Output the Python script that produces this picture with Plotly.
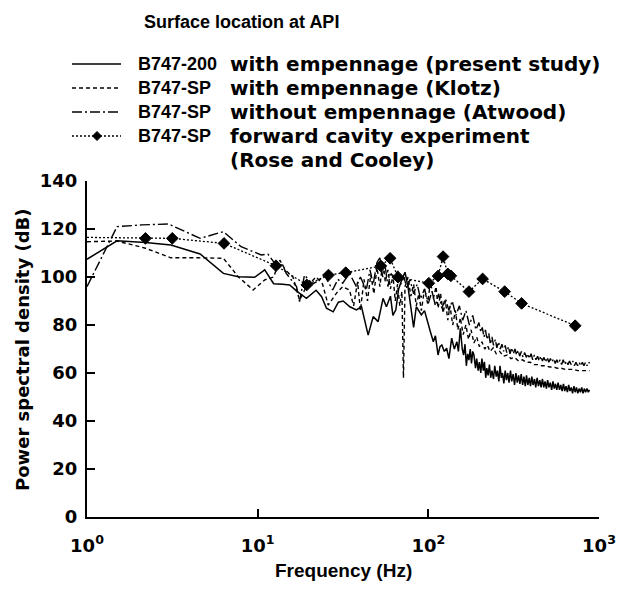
import plotly.graph_objects as go

# ---------------- data ----------------
freq_present = [1.0, 1.5, 2.2, 3.1, 4.6, 6.3, 7.7, 9.6, 11.0, 12.4, 14.0, 15.4, 17.0, 19.3, 22.0, 23.7,
                25.3, 27.7, 29.7, 31.7, 34.7, 37.9, 40.6, 42.5, 44.4, 47.5, 50.8, 54.3, 56.8, 60.0,
                62.0, 64.5, 67.0, 70.0, 73.0, 76.0, 79.0, 82.0, 85.0, 88.0, 91.0, 95.0, 99.6, 103,
                107, 110, 114, 117, 120, 124, 128, 132, 137, 142, 147,
                150, 154, 158, 161, 164, 167, 170, 173, 176, 179, 182, 185, 189, 192, 196, 199, 203,
                206, 210, 213, 217, 220, 224, 228, 232, 236, 241, 245, 250, 254, 259, 263, 268, 272,
                277, 282, 287, 292, 297, 303, 308, 314, 320, 326, 332, 338, 344, 350, 357, 363, 370,
                376, 383, 390, 397, 404, 411, 419, 426, 434, 442, 450, 458, 466, 475, 483, 492, 500,
                509, 518, 528, 537, 547, 556, 566, 576, 587, 597, 608, 619, 630, 641, 653, 664, 676,
                688, 700, 713, 725, 738, 751, 765, 778, 792, 806, 820, 835, 850, 865, 880]
psd_present = [107.4, 115.1, 114.4, 113.3, 109.6, 101.5, 100.1, 99.9, 103.0, 97.2, 97.0, 96.7, 94.0,
               91.1, 94.5, 91.8, 87.0, 85.5, 89.5, 90.0, 87.6, 86.3, 87.6, 82.0, 75.8, 83.5, 81.4,
               91.1, 87.6, 92.0, 84.0, 86.3, 95.0, 99.0, 102.0, 96.0, 88.0, 79.0, 87.6, 86.0, 84.2,
               86.0, 80.0, 77.0, 73.0, 75.5, 67.5, 71.0, 71.7, 69.0, 70.3, 66.0, 74.5, 70.0, 73.0,
               69.0, 78.6, 70.0, 67.5, 72.0, 63.0, 68.0, 65.4, 70.0, 64.0, 69.0, 67.5, 62.0, 66.0,
               61.0, 64.5, 60.0, 66.0, 61.0, 64.7, 58.0, 62.0, 59.0, 63.5, 58.0, 61.0, 57.5, 63.0,
               58.5, 61.0, 56.5, 63.0, 58.0, 60.0, 55.7, 61.0, 57.0, 60.0, 56.0, 61.0, 56.5, 59.5,
               55.0, 60.0, 56.0, 59.0, 55.5, 59.5, 55.0, 58.5, 54.5, 59.0, 55.0, 58.0, 54.5, 58.5,
               55.0, 57.5, 54.0, 58.0, 54.5, 57.0, 54.0, 57.5, 54.0, 56.5, 53.5, 57.0, 54.0, 56.0,
               53.0, 56.5, 53.5, 55.5, 53.0, 56.0, 53.0, 55.0, 52.5, 55.5, 52.5, 54.5, 52.0, 55.0,
               52.5, 54.0, 51.5, 54.5, 52.0, 54.0, 51.5, 53.5, 52.0, 54.0, 51.5, 53.5, 52.0, 53.5,
               52.0, 53.0]

freq_klotz = [1.0, 1.5, 2.2, 3.1, 4.5, 6.3, 7.7, 9.4, 11.0, 12.4, 13.5, 14.5, 16.1, 17.6, 19.3, 22.0,
              24.0, 25.9, 28.9, 31.5, 34.5, 36.5, 38.5, 40.0, 42.0, 44.0, 46.0, 48.0, 50.0, 52.0,
              54.0, 56.0, 58.0, 60.0, 62.0, 64.0, 66.0, 68.0, 70.0, 71.5, 73.0, 76.0, 79.0, 82.0,
              85.0, 88.0, 91.0, 95.0, 99.0, 103, 107, 111, 114, 118, 122, 126, 130, 134, 139, 144,
              149, 154, 160, 166, 172, 178, 185, 192, 199, 206, 214, 222, 230, 240, 250, 262, 275,
              290, 305, 320, 338, 356, 375, 395, 416, 438, 462, 487, 513, 540, 570, 600, 635, 670,
              710, 750, 800, 850, 880]
psd_klotz = [114.7, 115.0, 112.0, 108.0, 108.0, 107.8, 100.1, 94.6, 98.8, 100.0, 107.0, 103.0, 100.0,
             90.4, 96.0, 100.0, 97.0, 88.3, 93.2, 96.0, 94.6, 88.0, 98.0, 86.0, 99.0, 90.0, 101.0,
             93.0, 104.0, 96.0, 106.0, 98.0, 103.0, 95.0, 101.0, 90.0, 97.0, 88.0, 94.0, 58.0, 96.0,
             100.0, 92.0, 97.0, 88.0, 93.0, 86.0, 95.0, 89.0, 98.0, 91.0, 96.0, 87.0, 93.0, 85.0,
             90.0, 82.0, 88.0, 80.0, 86.0, 78.0, 83.0, 76.0, 80.0, 74.0, 78.0, 72.5, 75.0, 71.0,
             73.0, 70.0, 71.5, 69.0, 70.5, 68.0, 69.0, 67.0, 67.5, 66.0, 66.5, 65.0, 65.5, 64.5,
             64.5, 63.5, 63.5, 63.0, 63.0, 62.5, 62.5, 62.0, 62.0, 61.5, 61.5, 61.5, 61.0, 61.0,
             61.0, 61.0]

freq_atwood = [1.0, 1.5, 2.1, 3.0, 4.6, 6.3, 8.0, 10.5, 11.5, 12.5, 14.0, 14.7, 16.9, 17.6, 18.8, 21.0,
               23.0, 24.6, 27.5, 29.5, 31.5, 34.5, 37.9, 40.0, 43.3, 45.5, 47.5, 50.0, 52.0, 54.0,
               56.0, 58.0, 60.0, 63.0, 66.0, 69.0, 72.0, 75.0, 78.0, 82.0, 86.0, 90.0, 95.0, 100,
               105, 110, 115, 120, 126, 132, 138, 145, 152, 159, 166, 174, 182, 190,
               198, 203, 207, 212, 216, 221, 226, 231, 236, 241, 247, 252, 258, 264, 270, 276, 282,
               288, 295, 301, 308, 315, 322, 329, 336, 343, 351, 359, 367, 375, 383, 391, 400, 409,
               418, 427, 437, 446, 456, 466, 476, 486, 497, 508, 519, 530, 542, 554, 566, 578, 591,
               604, 617, 630, 644, 658, 672, 687, 702, 717, 733, 749, 765, 782, 799, 816, 834, 852,
               870, 880]
psd_atwood = [96.0, 121.0, 121.7, 122.1, 116.1, 118.9, 112.6, 109.2, 109.5, 106.0, 105.0, 101.5, 96.0,
              89.7, 100.8, 97.0, 98.8, 100.8, 94.6, 99.0, 97.4, 101.5, 96.0, 100.0, 94.6, 103.0,
              97.0, 106.0, 108.0, 100.0, 104.0, 96.0, 102.0, 99.0, 103.0, 97.0, 100.0, 95.0, 99.0,
              93.0, 97.0, 91.0, 95.0, 89.0, 94.0, 88.0, 93.0, 87.0, 91.0, 86.0, 90.0, 84.0, 88.0,
              82.0, 86.0, 80.0, 84.0, 78.0,
              81.0, 77.0, 79.0, 75.0, 78.0, 74.0, 76.5, 72.0, 75.0, 71.5, 74.0, 70.5, 73.0, 70.0,
              72.0, 69.0, 71.5, 68.5, 71.0, 68.0, 70.5, 68.0, 70.0, 67.5, 69.5, 67.0, 69.0, 66.5,
              68.5, 66.5, 68.0, 66.0, 68.0, 65.5, 67.5, 65.5, 67.0, 65.0, 67.0, 65.0, 66.5, 64.5,
              66.5, 64.5, 66.0, 64.5, 66.0, 64.0, 65.5, 64.0, 65.5, 63.5, 65.5, 63.5, 65.0, 63.5,
              65.0, 63.5, 65.0, 63.0, 64.5, 63.0, 64.5, 63.0, 64.5, 63.0, 64.5, 63.0, 64.5, 64.0]

freq_rose = [1.0, 2.2, 3.16, 6.35, 12.8, 19.4, 26.0, 32.8, 52.7, 59.7, 66.5, 100.7, 114, 122, 130,
             135.5, 173, 208, 280, 352, 725]
psd_rose = [116.5, 116.1, 116.1, 114.0, 104.7, 96.7, 100.8, 101.8, 104.6, 107.8, 99.9, 97.4, 100.4,
            108.5, 101.3, 100.5, 93.9, 99.2, 93.9, 89.0, 79.7]

x_tickvals = [1, 10, 100, 1000]
x_ticktext = ["10<sup>0</sup>", "10<sup>1</sup>", "10<sup>2</sup>", "10<sup>3</sup>"]
y_tickvals = [0, 20, 40, 60, 80, 100, 120, 140]

legend_codes = ["B747-200", "B747-SP", "B747-SP", "B747-SP"]
legend_desc = ["with empennage (present study)", "with empennage (Klotz)",
               "without empennage (Atwood)", "forward cavity experiment"]
legend_desc_extra = "(Rose and Cooley)"
legend_title = "Surface location at API"

# ---------------- figure ----------------
NARROW = "Liberation Sans, Arial, Helvetica, sans-serif"
WIDE = "DejaVu Sans, Verdana, sans-serif"
W, H = 634, 590
L, R, T, B = 87, 35, 181, 73
PW, PH = W - L - R, H - T - B


def px(xp):
    return (xp - L) / PW


def py(yp):
    return (H - B - yp) / PH


fig = go.Figure()
fig.add_trace(go.Scatter(x=freq_present, y=psd_present, mode="lines",
                         line=dict(color="black", width=1.5)))
fig.add_trace(go.Scatter(x=freq_klotz, y=psd_klotz, mode="lines",
                         line=dict(color="black", width=1.4, dash="4px,3px")))
fig.add_trace(go.Scatter(x=freq_atwood, y=psd_atwood, mode="lines",
                         line=dict(color="black", width=1.4, dash="10px,3px,2px,3px")))
rose_sizes = [0] + [9] * (len(freq_rose) - 1)
fig.add_trace(go.Scatter(x=freq_rose, y=psd_rose, mode="lines+markers",
                         line=dict(color="black", width=1.3, dash="2px,2px"),
                         marker=dict(symbol="diamond", size=rose_sizes, color="black",
                                     opacity=1, line=dict(color="black", width=1))))

tickfont = dict(family=WIDE, size=18, color="black", weight="bold")
fig.update_xaxes(type="log", range=[0, 3], tickvals=x_tickvals, ticktext=x_ticktext,
                 showline=True, linecolor="black", linewidth=2, ticks="inside", ticklen=8,
                 tickwidth=2, tickcolor="black", showgrid=False, zeroline=False,
                 tickfont=tickfont, ticklabelstandoff=11)
fig.update_yaxes(range=[0, 140], tickvals=y_tickvals, showline=True, linecolor="black",
                 linewidth=2, ticks="inside", ticklen=8, tickwidth=2, tickcolor="black",
                 showgrid=False, zeroline=False, tickfont=tickfont, ticklabelstandoff=4)

annotations = []
shapes = []
codefont = dict(family=NARROW, size=18, color="black", weight="bold")
descfont = dict(family=WIDE, size=20, color="black", weight="bold")
annotations.append(dict(text=legend_title, x=px(142), y=py(22), xref="paper", yref="paper",
                        xanchor="left", yanchor="middle", showarrow=False,
                        font=dict(family=NARROW, size=18, color="black", weight="bold")))
row_y = [64, 88, 112, 136]
dashes = ["solid", "4px,3px", "10px,3px,2px,3px", "2px,2px"]
for i, (code, desc) in enumerate(zip(legend_codes, legend_desc)):
    yy = row_y[i]
    annotations.append(dict(text=code, x=px(136), y=py(yy), xref="paper", yref="paper",
                            xanchor="left", yanchor="middle", showarrow=False, font=codefont))
    annotations.append(dict(text=desc, x=px(228), y=py(yy), xref="paper", yref="paper",
                            xanchor="left", yanchor="middle", showarrow=False, font=descfont))
    shapes.append(dict(type="line", xref="paper", yref="paper", x0=px(72), x1=px(121),
                       y0=py(yy), y1=py(yy), line=dict(color="black", width=1.5, dash=dashes[i])))
# diamond in legend
cx, cy, d = 97, row_y[3], 4.5
shapes.append(dict(type="path", xref="paper", yref="paper",
                   path=f"M {px(cx-d)},{py(cy)} L {px(cx)},{py(cy-d)} L {px(cx+d)},{py(cy)} "
                        f"L {px(cx)},{py(cy+d)} Z",
                   fillcolor="black", line=dict(color="black", width=1)))
annotations.append(dict(text=legend_desc_extra, x=px(228), y=py(160), xref="paper", yref="paper",
                        xanchor="left", yanchor="middle", showarrow=False, font=descfont))
annotations.append(dict(text="Power spectral density (dB)", x=px(22), y=py(350), xref="paper",
                        yref="paper", xanchor="center", yanchor="middle", textangle=-90,
                        showarrow=False,
                        font=dict(family=WIDE, size=18, color="black", weight="bold")))
annotations.append(dict(text="Frequency (Hz)", x=px(343), y=py(570), xref="paper", yref="paper",
                        xanchor="center", yanchor="middle", showarrow=False,
                        font=dict(family=NARROW, size=19, color="black", weight="bold")))

fig.update_layout(width=W, height=H, margin=dict(l=L, r=R, t=T, b=B, pad=0),
                  plot_bgcolor="white", paper_bgcolor="white", showlegend=False,
                  annotations=annotations, shapes=shapes, font=dict(family=NARROW))

fig.write_html("out.html")
